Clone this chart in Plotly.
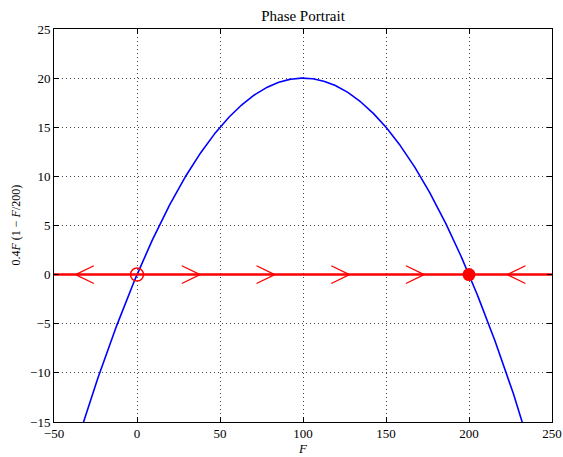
import numpy as np
import plotly.graph_objects as go

# data
r = 0.4
K = 200
F_vals = np.linspace(-50, 250, 601)
growth = r * F_vals * (1 - F_vals / K)

arrow_tips = [-37, 38, 83, 128, 173, 223]
arrow_dirs = [-1, 1, 1, 1, 1, -1]
unstable_eq = [0]
stable_eq = [200]

x_ticks = [-50, 0, 50, 100, 150, 200, 250]
y_ticks = [-15, -10, -5, 0, 5, 10, 15, 20, 25]

SERIF = "Liberation Serif, Times New Roman, serif"

fig = go.Figure()

fig.add_trace(go.Scatter(x=F_vals, y=growth, mode="lines",
                         line=dict(color="#0000ff", width=1.6),
                         hoverinfo="skip", showlegend=False))

fig.add_trace(go.Scatter(x=[-50, 250], y=[0, 0], mode="lines",
                         line=dict(color="#ff0000", width=2.5),
                         showlegend=False))

# chevron arrows built from the tip positions
ax_len = 11
ay_half = 0.9
xs, ys = [], []
for tip, d in zip(arrow_tips, arrow_dirs):
    back = tip - d * ax_len
    xs += [back, tip, back, None]
    ys += [ay_half, 0, -ay_half, None]
fig.add_trace(go.Scatter(x=xs, y=ys, mode="lines",
                         line=dict(color="#ff0000", width=1.3),
                         showlegend=False))

fig.add_trace(go.Scatter(x=unstable_eq, y=[0] * len(unstable_eq), mode="markers",
                         marker=dict(symbol="circle-open", size=13,
                                     color="#ff0000", line=dict(width=1.5)),
                         showlegend=False))
fig.add_trace(go.Scatter(x=stable_eq, y=[0] * len(stable_eq), mode="markers",
                         marker=dict(symbol="circle", size=13, color="#ff0000"),
                         showlegend=False))

axis_common = dict(showline=True, linecolor="black", linewidth=1, mirror="ticks",
                   ticks="inside", ticklen=5, tickcolor="black", automargin=False,
                   showgrid=True, gridcolor="#444444", griddash="1px,3px", gridwidth=1,
                   zeroline=False, tickfont=dict(family=SERIF, size=13, color="black"))

fig.update_xaxes(range=[-50, 250], tickvals=x_ticks,
                 ticktext=[str(v).replace("-", "\u2212") for v in x_ticks],
                 ticklabelstandoff=-1,
                 **axis_common)
fig.update_yaxes(range=[-15, 25], tickvals=y_ticks,
                 ticktext=[str(v).replace("-", "\u2212") for v in y_ticks],
                 **axis_common)

fig.add_annotation(text="<i>F</i>", xref="paper", yref="paper", x=0.5, y=0,
                   yshift=-26, xanchor="center", yanchor="middle", showarrow=False,
                   font=dict(family=SERIF, size=13, color="black"))
fig.add_annotation(text="0.4<i>F</i> (1 \u2212 <i>F</i>/200)", xref="paper", yref="paper",
                   x=0, y=0.5, xshift=-39, xanchor="center", yanchor="middle",
                   textangle=-90, showarrow=False,
                   font=dict(family=SERIF, size=12, color="black"))

W, H = 563, 457
fig.update_layout(width=W, height=H,
                  margin=dict(l=54, r=11, t=29, b=35),
                  paper_bgcolor="white", plot_bgcolor="white",
                  title=dict(text="Phase Portrait", x=303 / W, xanchor="center",
                             y=1 - 16 / H, yanchor="middle",
                             font=dict(family=SERIF, size=15, color="black")))

fig.write_html("out.html",
               config={"displayModeBar": False},
               post_script="document.body.style.margin='0';"
                           "document.body.style.overflow='hidden';")
